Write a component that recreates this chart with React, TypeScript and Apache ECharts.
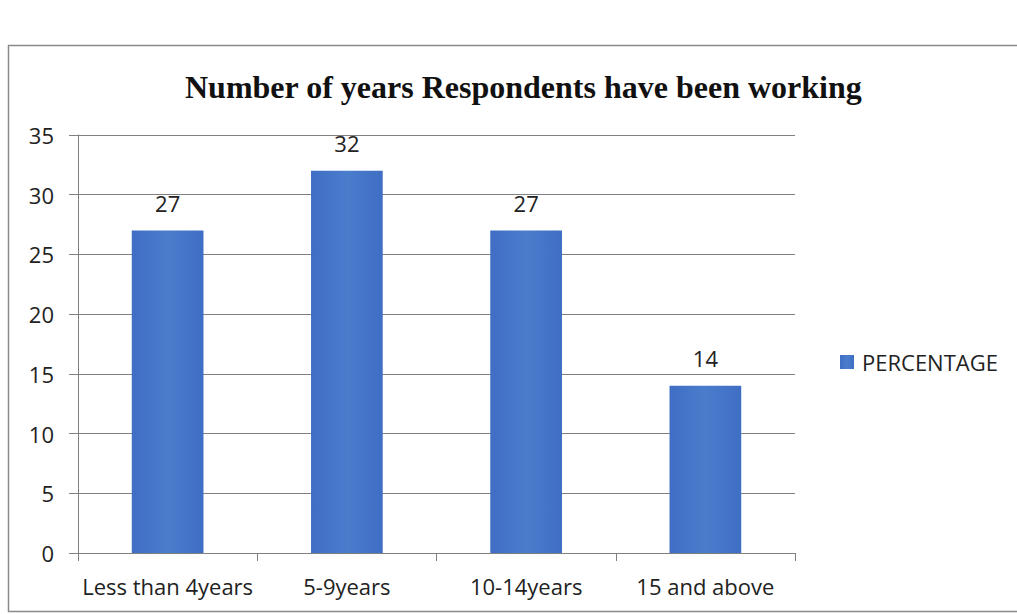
import React, { useEffect, useRef } from "react";
import * as echarts from "echarts";

const categories = ["Less than 4years", "5-9years", "10-14years", "15 and above"];
const percentages = [27, 32, 27, 14];
const seriesName = "PERCENTAGE";
const titleText = "Number of years Respondents have been working";

export default function App() {
  const ref = useRef<HTMLDivElement>(null);
  useEffect(() => {
    if (!ref.current) return;
    const chart = echarts.init(ref.current, null, { renderer: "svg" });
    const sans = "'Open Sans', 'Noto Sans', sans-serif";
    chart.setOption({
      animation: false,
      backgroundColor: "#ffffff",
      title: {
        text: titleText,
        left: 180,
        top: 66,
        textStyle: {
          fontFamily: "'Liberation Serif', 'Times New Roman', serif",
          fontWeight: "bold",
          fontSize: 32,
          color: "#111",
        },
      },
      graphic: [
        {
          type: "rect",
          shape: { x: 8.5, y: 45.5, width: 1020, height: 566 },
          style: { fill: "none", stroke: "#8a8a8a", lineWidth: 1.5 },
          silent: true,
        },
      ],
      legend: {
        left: 835,
        top: 346,
        itemWidth: 14,
        itemHeight: 14,
        icon: "rect",
        data: [seriesName],
        textStyle: { fontFamily: sans, fontSize: 22, color: "#222", padding: [0, 0, 0, 3] },
      },
      grid: { left: 78, right: 222, top: 135, bottom: 61, containLabel: false },
      xAxis: {
        type: "category",
        data: categories,
        axisLine: { show: true, lineStyle: { color: "#808080", width: 1 } },
        axisTick: { show: true, alignWithLabel: false, length: 8, inside: false, lineStyle: { color: "#808080" } },
        axisLabel: { fontFamily: sans, fontSize: 22, color: "#222", margin: 22, interval: 0 },
        splitLine: { show: false },
      },
      yAxis: {
        type: "value",
        min: 0,
        max: 35,
        interval: 5,
        axisLine: { show: true, lineStyle: { color: "#808080", width: 1 } },
        axisTick: { show: true, length: 9, lineStyle: { color: "#808080" } },
        axisLabel: { fontFamily: sans, fontSize: 22, color: "#222", margin: 24 },
        splitLine: { show: true, lineStyle: { color: "#808080", width: 1 } },
      },
      series: [
        {
          name: seriesName,
          type: "bar",
          data: percentages,
          barWidth: "40%",
          itemStyle: {
            color: new echarts.graphic.LinearGradient(0, 0, 1, 0, [
              { offset: 0, color: "#3f6ec4" },
              { offset: 0.5, color: "#4a7ccc" },
              { offset: 1, color: "#3f6ec4" },
            ]),
          },
          label: {
            show: true,
            position: "top",
            distance: 17,
            fontFamily: sans,
            fontSize: 22,
            color: "#222",
          },
        },
      ],
    });
    return () => chart.dispose();
  }, []);
  return (
    <div
      ref={ref}
      style={{ position: "fixed", left: 0, top: 0, width: 1017, height: 614 }}
    />
  );
}
